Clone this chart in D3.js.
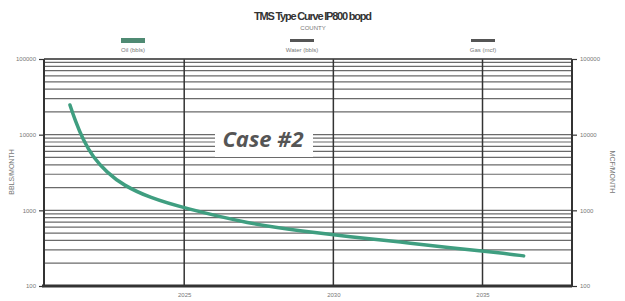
<!DOCTYPE html>
<html lang="en">
<head>
  <meta charset="utf-8">
  <title>TMS Type Curve</title>
  <script src="https://d3js.org/d3.v7.min.js"></script>
  <style>
    body { margin: 0; background: #fff; }
    text { font-family: "Liberation Sans", Arial, sans-serif; }
    .small { font-size: 6px; fill: #777; }
  </style>
</head>
<body>
  <div id="chart"></div>
  <script>
    "use strict"
    // dados (ano decimal, bbls/mes)
    var anos = [2021.17, 2021.34, 2021.61, 2021.95, 2022.4, 2022.95, 2023.86, 2024.97,
                2027.21, 2028.89, 2030.57, 2032.25, 2033.93, 2035.6, 2036.38];
    var oleo = [24700, 15600, 8500, 5000, 3200, 2150, 1460, 1076,
                661, 535, 446, 382, 318, 274, 250];
    var anosTicks = [2025, 2030, 2035];
    var yTicks = [100, 1000, 10000, 100000];
    var legendas = ["Oil (bbls)", "Water (bbls)", "Gas (mcf)"];

    var larguraSVG = 625, alturaSVG = 301;
    var margin = {top: 59, right: 53, bottom: 15, left: 44},
        larguraVis = larguraSVG - margin.left - margin.right,
        alturaVis = alturaSVG - margin.top - margin.bottom;

    var svg = d3.select('#chart').append('svg')
      .attr('width', larguraSVG).attr('height', alturaSVG);
    var g = svg.append('g')
      .attr('transform', 'translate(' + margin.left + ',' + margin.top + ')');

    var x = d3.scaleLinear().domain([2020.3, 2038.0]).range([0, larguraVis]);
    var y = d3.scaleLog().domain([100, 100000]).range([alturaVis, 0]);

    // linhas horizontais (log)
    var minors = y.ticks();
    g.append('g').selectAll('line').data(minors).enter().append('line')
      .attr('x1', 0).attr('x2', larguraVis)
      .attr('y1', d => y(d)).attr('y2', d => y(d))
      .attr('stroke', '#6a6a6a').attr('stroke-width', 1.2);

    // verticais
    g.append('g').selectAll('line').data(anosTicks).enter().append('line')
      .attr('x1', d => x(d)).attr('x2', d => x(d))
      .attr('y1', 0).attr('y2', alturaVis)
      .attr('stroke', '#333').attr('stroke-width', 1.5);

    // caixa do "Case #2"
    g.append('rect').attr('x', 215 - margin.left).attr('y', 127 - margin.top)
      .attr('width', 98).attr('height', 30).attr('fill', '#fff');
    g.append('text').attr('x', 263 - margin.left).attr('y', 147 - margin.top)
      .attr('text-anchor', 'middle')
      .style('font-family', '"Open Sans", sans-serif')
      .style('font-size', '22px').style('font-weight', 'bold').style('font-style', 'italic')
      .attr('fill', '#555').text('Case #2');

    // curva
    var linha = d3.line()
      .x((d, i) => x(anos[i]))
      .y(d => y(d))
      .curve(d3.curveBasis);
    g.append('path').datum(oleo)
      .attr('d', linha)
      .attr('fill', 'none')
      .attr('stroke', '#3f9e80')
      .attr('stroke-width', 3.5)
      .attr('stroke-linecap', 'round');

    // eixos
    var eixoE = d3.axisLeft(y).tickValues(yTicks).tickFormat(d3.format('d')).tickSize(5);
    var eixoD = d3.axisRight(y).tickValues(yTicks).tickFormat(d3.format('d')).tickSize(5);
    var eixoB = d3.axisBottom(x).tickValues(anosTicks).tickFormat(d3.format('d')).tickSize(0);
    [g.append('g').call(eixoE),
     g.append('g').attr('transform', 'translate(' + larguraVis + ',0)').call(eixoD),
     g.append('g').attr('class', 'eixoB').attr('transform', 'translate(0,' + alturaVis + ')').call(eixoB)]
      .forEach(function(a) {
        a.select('.domain').remove();
        a.selectAll('line').attr('stroke', '#333').attr('stroke-width', 1.2);
        a.selectAll('text').attr('class', 'small').style('font-size', '6px');
      });
    g.selectAll('.eixoB .tick text').attr('dy', '1.3em');

    // bordas
    g.append('line').attr('x1', 0).attr('x2', 0).attr('y1', 0).attr('y2', alturaVis)
      .attr('stroke', '#333').attr('stroke-width', 2);
    g.append('line').attr('x1', larguraVis).attr('x2', larguraVis).attr('y1', 0).attr('y2', alturaVis)
      .attr('stroke', '#333').attr('stroke-width', 2);
    g.append('line').attr('x1', 0).attr('x2', larguraVis).attr('y1', 0).attr('y2', 0)
      .attr('stroke', '#444').attr('stroke-width', 1.5);
    g.append('line').attr('x1', -2).attr('x2', larguraVis).attr('y1', alturaVis).attr('y2', alturaVis)
      .attr('stroke', '#333').attr('stroke-width', 3);

    // titulos
    svg.append('text').attr('x', 313).attr('y', 20).attr('text-anchor', 'middle')
      .style('font-size', '11px').style('font-weight', 'bold').attr('fill', '#333')
      .attr('textLength', 118).text('TMS Type Curve IP800 bopd');
    svg.append('text').attr('x', 313).attr('y', 30).attr('text-anchor', 'middle')
      .attr('class', 'small').attr('fill', '#666').text('COUNTY');

    // legenda
    var legX = [133, 302, 483];
    legendas.forEach(function(l, i) {
      if (i === 0) {
        svg.append('rect').attr('x', legX[i] - 12).attr('y', 38).attr('width', 24).attr('height', 5)
          .attr('fill', '#4f8a73');
      } else {
        svg.append('rect').attr('x', legX[i] - 12).attr('y', 39).attr('width', 24).attr('height', 3)
          .attr('fill', '#555');
      }
      svg.append('text').attr('x', legX[i]).attr('y', 52).attr('text-anchor', 'middle')
        .attr('class', 'small').text(l);
    });

    // rotulos dos eixos
    svg.append('text').attr('transform', 'translate(14,172) rotate(-90)').attr('text-anchor', 'middle')
      .attr('class', 'small').style('font-size', '7px').text('BBLS/MONTH');
    svg.append('text').attr('transform', 'translate(610,172) rotate(90)').attr('text-anchor', 'middle')
      .attr('class', 'small').style('font-size', '7px').text('MCF/MONTH');
  </script>
</body>
</html>
